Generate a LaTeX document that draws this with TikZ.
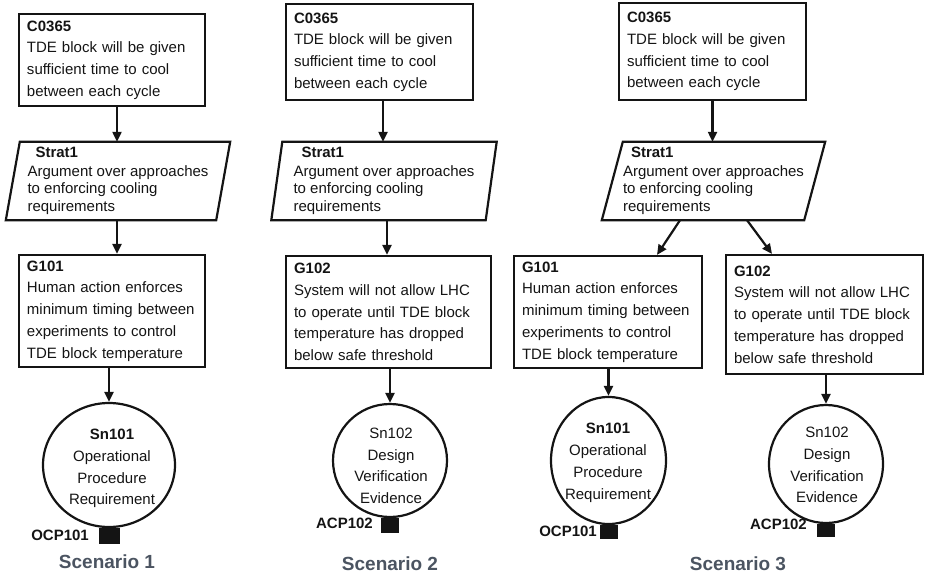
\documentclass[tikz,border=0pt]{standalone}
\usepackage{fontspec}
\setmainfont{Liberation Sans}
\usetikzlibrary{arrows.meta,shapes.geometric}
\definecolor{ink}{HTML}{141414}
\definecolor{scen}{HTML}{4B5461}
\begin{document}
\begin{tikzpicture}[x=1pt,y=-1pt,
  every node/.style={text=ink, font=\fontsize{15}{21.7}\selectfont},
  box/.style={draw=ink, line width=2.2pt, rectangle, align=left, inner xsep=8pt, inner ysep=0pt},
  parl/.style={rectangle, align=left, inner sep=0pt, minimum height=78pt, font=\fontsize{15}{17.5}\selectfont},
  pline/.style={draw=ink, line width=2.2pt, line join=miter},
  sol/.style={draw=ink, line width=2.2pt, ellipse, inner sep=0pt},
  soltxt/.style={align=center, inner sep=0pt},
  ctx/.style={fill=ink, draw=none, inner sep=0pt, rectangle},
  ctxlbl/.style={font=\bfseries\fontsize{15}{18}\selectfont, inner sep=0pt, anchor=base east},
  scenlbl/.style={text=scen, font=\bfseries\fontsize{19}{22}\selectfont, inner sep=0pt, anchor=base},
  arr/.style={draw=ink, line width=2.2pt, -{Triangle[length=10pt,width=9pt]}}
]
\useasboundingbox (0,0) rectangle (925,576);

% ---------------- Scenario 1 ----------------
\node[box, minimum width=186pt, minimum height=92pt, text width=170pt] (c1) at (112,60)
  {\textbf{C0365}\\TDE block will be given\\sufficient time to cool\\between each cycle};
\node[parl, minimum width=210pt] (s1) at (118,181)
  {\hspace*{8pt}\textbf{Strat1}\\[1pt]Argument over approaches\\to enforcing cooling\\requirements};
\draw[pline] ([xshift=7pt]s1.north west) -- ([xshift=7pt]s1.north east) -- ([xshift=-7pt]s1.south east) -- ([xshift=-7pt]s1.south west) -- cycle;
\node[box, minimum width=186pt, minimum height=112pt, text width=170pt] (g1) at (112,311)
  {\textbf{G101}\\Human action enforces\\minimum timing between\\experiments to control\\TDE block temperature};
\node[sol, minimum width=132pt, minimum height=124pt] (e1) at (109,465) {};
\node[soltxt] (t1) at (112,468.7) {\textbf{Sn101}\\Operational\\Procedure\\Requirement};
\node[ctx, minimum width=21pt, minimum height=16pt, anchor=north] (q1) at (e1.south) {};
\node[ctxlbl] (l1) at (89,540) {OCP101};
\node[scenlbl] (sc1) at (107,568) {Scenario 1};
\draw[arr] ([xshift=5pt]c1.south) -- ([xshift=5pt]c1.south |- s1.north);
\draw[arr] ([xshift=-1pt]s1.south) -- ([xshift=-1pt]s1.south |- g1.north);
\draw[arr] (e1.north |- g1.south) -- (e1.north);

% ---------------- Scenario 2 ----------------
\node[box, minimum width=187pt, minimum height=96pt, text width=171pt] (c2) at (379.5,52)
  {\textbf{C0365}\\TDE block will be given\\sufficient time to cool\\between each cycle};
\node[parl, minimum width=214pt] (s2) at (384,181)
  {\hspace*{8pt}\textbf{Strat1}\\[1pt]Argument over approaches\\to enforcing cooling\\requirements};
\draw[pline] ([xshift=5.5pt]s2.north west) -- ([xshift=5.5pt]s2.north east) -- ([xshift=-5.5pt]s2.south east) -- ([xshift=-5.5pt]s2.south west) -- cycle;
\node[box, minimum width=205pt, minimum height=112pt, text width=189pt] (g2) at (388.5,312)
  {\textbf{G102}\\System will not allow LHC\\to operate until TDE block\\temperature has dropped\\below safe threshold};
\node[sol, minimum width=114pt, minimum height=113pt] (e2) at (390,460.5) {};
\node[soltxt] (t2) at (391,465.7) {Sn102\\Design\\Verification\\Evidence};
\node[ctx, minimum width=18pt, minimum height=15pt, anchor=north] (q2) at (e2.south) {};
\node[ctxlbl] (l2) at (373,528) {ACP102};
\node[scenlbl] (sc2) at (390,570) {Scenario 2};
\draw[arr] ([xshift=3.5pt]c2.south) -- ([xshift=3.5pt]c2.south |- s2.north);
\draw[arr] ([xshift=3pt]s2.south) -- ([xshift=3pt]s2.south |- g2.north);
\draw[arr] (e2.north |- g2.south) -- (e2.north);

% ---------------- Scenario 3 ----------------
\node[box, minimum width=187pt, minimum height=97pt, text width=171pt] (c3) at (712.5,51.5)
  {\textbf{C0365}\\TDE block will be given\\sufficient time to cool\\between each cycle};
\node[parl, minimum width=202pt] (s3) at (713.5,181)
  {\hspace*{8pt}\textbf{Strat1}\\[1pt]Argument over approaches\\to enforcing cooling\\requirements};
\draw[pline] ([xshift=10.5pt]s3.north west) -- ([xshift=10.5pt]s3.north east) -- ([xshift=-10.5pt]s3.south east) -- ([xshift=-10.5pt]s3.south west) -- cycle;
\node[box, minimum width=188pt, minimum height=112pt, text width=172pt] (g3a) at (608,312)
  {\textbf{G101}\\Human action enforces\\minimum timing between\\experiments to control\\TDE block temperature};
\node[box, minimum width=197pt, minimum height=119pt, text width=181pt] (g3b) at (824.5,314.5)
  {\textbf{G102}\\System will not allow LHC\\to operate until TDE block\\temperature has dropped\\below safe threshold};
\node[sol, minimum width=115pt, minimum height=127pt] (e3a) at (608.5,460.5) {};
\node[soltxt] (t3a) at (608,462.8) {\textbf{Sn101}\\Operational\\Procedure\\Requirement};
\node[ctx, minimum width=18pt, minimum height=14pt, anchor=north] (q3a) at (e3a.south) {};
\node[ctxlbl] (l3a) at (597,536) {OCP101};
\node[sol, minimum width=114pt, minimum height=118pt] (e3b) at (826,464) {};
\node[soltxt] (t3b) at (827,465) {Sn102\\Design\\Verification\\Evidence};
\node[ctx, minimum width=18pt, minimum height=13pt, anchor=north] (q3b) at (e3b.south) {};
\node[ctxlbl] (l3b) at (807,529) {ACP102};
\node[scenlbl] (sc3) at (738,570) {Scenario 3};
\draw[arr] (c3.south) -- (c3.south |- s3.north);
\draw[arr] ([xshift=-33.5pt]s3.south) -- ([xshift=49pt]g3a.north);
\draw[arr] ([xshift=33.5pt]s3.south) -- ([xshift=-52.5pt]g3b.north);
\draw[arr] (e3a.north |- g3a.south) -- (e3a.north);
\draw[arr] (e3b.north |- g3b.south) -- (e3b.north);
\end{tikzpicture}
\end{document}
